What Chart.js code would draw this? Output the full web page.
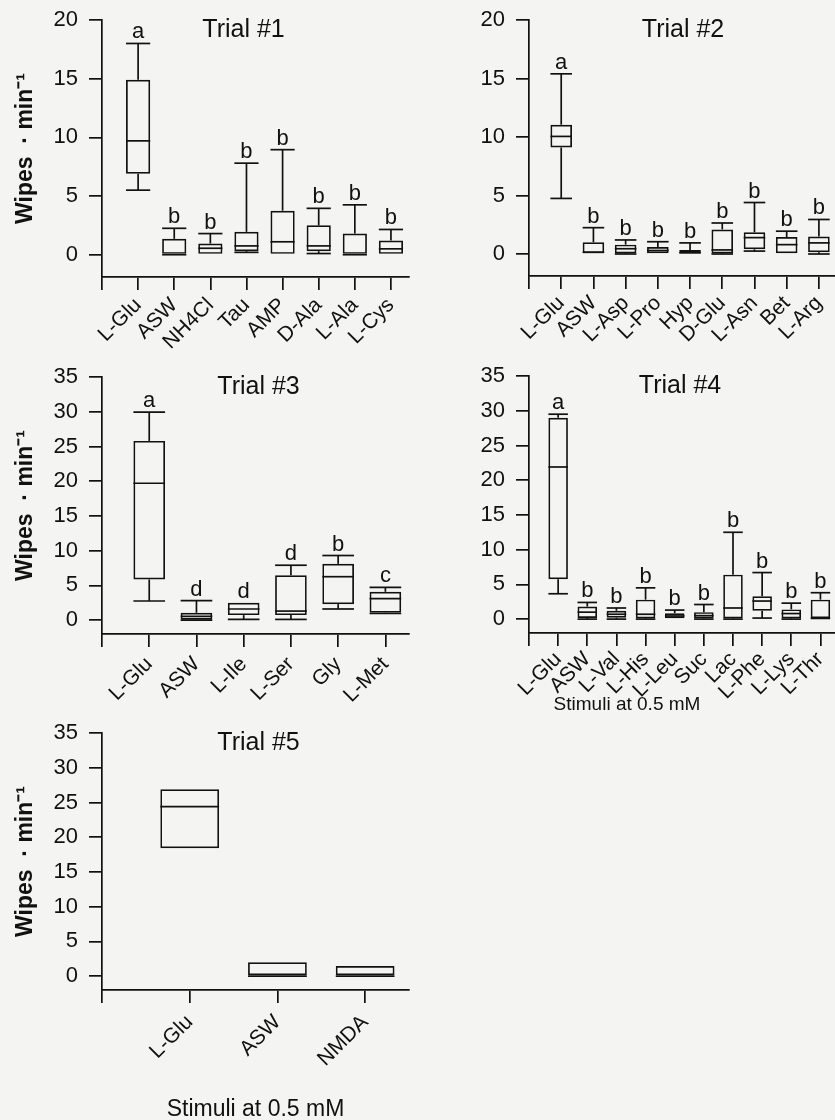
<!DOCTYPE html>
<html><head><meta charset="utf-8">
<script src="https://cdn.jsdelivr.net/npm/chart.js@4.4.1/dist/chart.umd.min.js"></script>
<style>
html,body{margin:0;padding:0;background:#f4f4f2;}
body{width:835px;height:1120px;position:relative;overflow:hidden;}
canvas{position:absolute;}
</style></head><body>
<canvas id="c1" width="420" height="360" style="left:0;top:0"></canvas>
<canvas id="c2" width="415" height="360" style="left:420px;top:0"></canvas>
<canvas id="c3" width="420" height="360" style="left:0;top:360px"></canvas>
<canvas id="c4" width="415" height="360" style="left:420px;top:360px"></canvas>
<canvas id="c5" width="420" height="400" style="left:0;top:720px"></canvas>
<script>
// ---------- DATA ----------
const yTicks20 = [0, 5, 10, 15, 20];
const yTicks35 = [0, 5, 10, 15, 20, 25, 30, 35];
const yAxisTitle = 'Wipes  · min\u207B\u00B9';
const xAxisNote = 'Stimuli at 0.5 mM';

const t1Labels = ['L-Glu', 'ASW', 'NH4Cl', 'Tau', 'AMP', 'D-Ala', 'L-Ala', 'L-Cys'];
const t1Min = [5.5, 0, 0, 0.2, 0, 0.1, 0, 0];
const t1Q1 = [6.9, 0, 0, 0.3, 0, 0.3, 0, 0];
const t1Med = [9.7, 0, 0.55, 0.75, 1.1, 0.75, 0, 0.5];
const t1Q3 = [14.9, 1.35, 0.95, 1.95, 3.75, 2.5, 1.8, 1.2];
const t1Max = [18.0, 2.25, 1.8, 7.8, 8.95, 3.95, 4.25, 2.15];
const t1Letters = ['a', 'b', 'b', 'b', 'b', 'b', 'b', 'b'];

const t2Labels = ['L-Glu', 'ASW', 'L-Asp', 'L-Pro', 'Hyp', 'D-Glu', 'L-Asn', 'Bet', 'L-Arg'];
const t2Min = [4.75, 0, 0, 0, 0, 0, 0.25, 0, 0];
const t2Q1 = [9.1, 0, 0.05, 0, 0, 0.05, 0.4, 0, 0.15];
const t2Med = [10.05, 0.15, 0.45, 0.3, 0.1, 0.35, 1.4, 0.8, 0.95];
const t2Q3 = [11.05, 1.0, 0.8, 0.6, 0.35, 2.1, 1.85, 1.45, 1.5];
const t2Max = [15.4, 2.25, 1.2, 1.05, 0.95, 2.65, 4.4, 1.95, 2.95];
const t2Letters = ['a', 'b', 'b', 'b', 'b', 'b', 'b', 'b', 'b'];

const t3Labels = ['L-Glu', 'ASW', 'L-Ile', 'L-Ser', 'Gly', 'L-Met'];
const t3Min = [2.75, 0, 0.1, 0.1, 1.6, 0.95];
const t3Q1 = [5.85, 0.05, 0.72, 0.72, 2.3, 1.05];
const t3Med = [19.7, 0.55, 1.6, 1.3, 6.25, 3.1];
const t3Q3 = [25.8, 1.05, 2.5, 6.45, 8.1, 4.07];
const t3Max = [29.95, 2.8, 2.5, 7.9, 9.3, 4.7];
const t3Letters = ['a', 'd', 'd', 'd', 'b', 'c'];

const t4Labels = ['L-Glu', 'ASW', 'L-Val', 'L-His', 'L-Leu', 'Suc', 'Lac', 'L-Phe', 'L-Lys', 'L-Thr'];
const t4Min = [3.65, 0, 0, 0, 0, 0, 0, 0.15, 0, 0];
const t4Q1 = [5.75, 0.15, 0.2, 0.1, 0, 0.1, 0.1, 1.2, 0.1, 0];
const t4Med = [21.9, 1.0, 0.7, 0.7, 0.45, 0.5, 1.6, 2.6, 0.8, 0.1];
const t4Q3 = [29.0, 1.8, 1.2, 2.8, 0.85, 1.0, 6.4, 3.3, 1.4, 2.8];
const t4Max = [29.5, 2.4, 1.6, 4.5, 1.3, 2.1, 12.5, 6.7, 2.3, 3.8];
const t4Letters = ['a', 'b', 'b', 'b', 'b', 'b', 'b', 'b', 'b', 'b'];

const t5Labels = ['L-Glu', 'ASW', 'NMDA'];
const t5Min = [18.4, 0, 0];
const t5Q1 = [18.4, 0, 0];
const t5Med = [24.4, 0, 0];
const t5Q3 = [26.9, 2.0, 1.45];
const t5Max = [26.9, 2.0, 1.45];
const t5Letters = ['', '', ''];

// ---------- RENDERING ----------
const FONT = '"Liberation Sans", Arial, Helvetica, sans-serif';
const INK = '#111';
const LW = 1.7;
Chart.defaults.font.family = FONT;
Chart.defaults.color = INK;

const boxExtras = {
  id: 'boxExtras',
  afterDatasetsDraw(chart, args, o) {
    const {ctx, chartArea, scales: {x, y}} = chart;
    const meta = chart.getDatasetMeta(0);
    const py = v => y.getPixelForValue(v);
    ctx.save();
    ctx.strokeStyle = INK;
    ctx.lineWidth = LW;
    ctx.lineCap = 'butt';
    const seg = (x1, y1, x2, y2) => { ctx.beginPath(); ctx.moveTo(x1, y1); ctx.lineTo(x2, y2); ctx.stroke(); };
    meta.data.forEach((bar, i) => {
      const cx = x.getPixelForValue(i);
      const half = bar.width / 2;
      const ch = half * o.capRatio;
      seg(cx - half, py(o.med[i]), cx + half, py(o.med[i]));
      if (o.max[i] > o.q3[i]) {
        seg(cx, py(o.q3[i]), cx, py(o.max[i]));
        seg(cx - ch, py(o.max[i]), cx + ch, py(o.max[i]));
      }
      if (o.min[i] < o.q1[i]) {
        seg(cx, py(o.q1[i]), cx, py(o.min[i]));
        seg(cx - ch, py(o.min[i]), cx + ch, py(o.min[i]));
      }
      if (o.letters[i]) {
        ctx.fillStyle = INK;
        ctx.font = '22px ' + FONT;
        ctx.textAlign = 'center';
        ctx.textBaseline = 'alphabetic';
        ctx.fillText(o.letters[i], cx, py(o.max[i]) - 5);
      }
    });
    // panel title
    ctx.fillStyle = INK;
    ctx.font = '25px ' + FONT;
    ctx.textAlign = 'center';
    ctx.textBaseline = 'middle';
    const mid = (chartArea.left + chartArea.right) / 2;
    ctx.fillText(o.title, mid + o.titleDx, chartArea.top + 10);
    if (o.note) {
      ctx.font = o.noteSize + 'px ' + FONT;
      ctx.fillText(o.note, mid + o.noteDx, chartArea.bottom + o.noteDy);
    }
    ctx.restore();
  }
};

function makeChart(id, d, lay) {
  const n = d.labels.length;
  return new Chart(document.getElementById(id), {
    type: 'bar',
    data: {
      datasets: [{
        data: d.labels.map((_, i) => ({x: i, y: [d.q1[i], d.q3[i]]})),
        backgroundColor: 'rgba(0,0,0,0)',
        borderColor: INK,
        borderWidth: LW,
        borderSkipped: false,
        categoryPercentage: 1,
        barPercentage: 0.67
      }]
    },
    options: {
      responsive: false,
      devicePixelRatio: 1,
      animation: false,
      layout: {padding: {top: lay.top, right: lay.right, left: 0, bottom: 0}},
      plugins: {
        legend: {display: false},
        tooltip: {enabled: false},
        boxExtras: {
          min: d.min, q1: d.q1, med: d.med, q3: d.q3, max: d.max, letters: d.letters,
          capRatio: 1.0, title: d.title, titleDx: lay.titleDx,
          note: d.note, noteDx: lay.noteDx, noteDy: lay.noteDy, noteSize: lay.noteSize
        }
      },
      scales: {
        x: {
          type: 'linear',
          offset: false,
          min: -1,
          max: n - 0.5,
          afterBuildTicks: s => { s.ticks = [-1].concat(d.labels.map((_, i) => i)).map(v => ({value: v})); },
          afterFit: s => { s.height = lay.xH; s.paddingLeft = 0; s.paddingRight = 0; },
          grid: {display: true, drawOnChartArea: false, drawTicks: true, tickLength: 13, color: INK, lineWidth: LW, offset: false},
          border: {display: true, color: INK, width: LW},
          ticks: {
            autoSkip: false, minRotation: 45, maxRotation: 45, padding: lay.xPad,
            font: {size: 21}, color: INK,
            callback: v => (v >= 0 && d.labels[v] !== undefined) ? d.labels[v] : ''
          }
        },
        y: {
          type: 'linear',
          min: d.yMin,
          max: d.yMax,
          afterBuildTicks: s => { s.ticks = d.yTicks.map(v => ({value: v})); },
          afterFit: s => { s.width = lay.yW; s.paddingTop = 0; s.paddingBottom = 0; },
          grid: {display: true, drawOnChartArea: false, drawTicks: true, tickLength: 13, color: INK, lineWidth: LW},
          border: {display: true, color: INK, width: LW},
          ticks: {padding: 11, font: {size: 22}, color: INK},
          title: {
            display: d.yTitle, text: yAxisTitle, color: INK,
            font: {size: 23, weight: 'bold'}, padding: {top: 12, bottom: 0}
          }
        }
      }
    },
    plugins: [boxExtras]
  });
}

makeChart('c1', {labels: t1Labels, min: t1Min, q1: t1Q1, med: t1Med, q3: t1Q3, max: t1Max, letters: t1Letters,
  yMin: -1.9, yMax: 20, yTicks: yTicks20, yTitle: true, title: 'Trial #1'},
  {top: 20, right: 11, yW: 102, xH: 83, xPad: 3, titleDx: -12});
makeChart('c2', {labels: t2Labels, min: t2Min, q1: t2Q1, med: t2Med, q3: t2Q3, max: t2Max, letters: t2Letters,
  yMin: -1.88, yMax: 20, yTicks: yTicks20, yTitle: false, title: 'Trial #2'},
  {top: 20, right: 0, yW: 109, xH: 84, xPad: 2, titleDx: 1});
makeChart('c3', {labels: t3Labels, min: t3Min, q1: t3Q1, med: t3Med, q3: t3Q3, max: t3Max, letters: t3Letters,
  yMin: -2.0, yMax: 35, yTicks: yTicks35, yTitle: true, title: 'Trial #3'},
  {top: 17, right: 11, yW: 102, xH: 86, xPad: 5, titleDx: 3});
makeChart('c4', {labels: t4Labels, min: t4Min, q1: t4Q1, med: t4Med, q3: t4Q3, max: t4Max, letters: t4Letters,
  yMin: -2.0, yMax: 35, yTicks: yTicks35, yTitle: false, title: 'Trial #4', note: xAxisNote},
  {top: 16, right: 0, yW: 109, xH: 87, xPad: 1, titleDx: -2, noteDx: -55, noteDy: 72, noteSize: 19});
makeChart('c5', {labels: t5Labels, min: t5Min, q1: t5Q1, med: t5Med, q3: t5Q3, max: t5Max, letters: t5Letters,
  yMin: -2.0, yMax: 35, yTicks: yTicks35, yTitle: true, title: 'Trial #5', note: xAxisNote},
  {top: 13, right: 11, yW: 102, xH: 130, xPad: 7, titleDx: 3, noteDx: 0, noteDy: 120, noteSize: 23});
</script>
</body></html>
